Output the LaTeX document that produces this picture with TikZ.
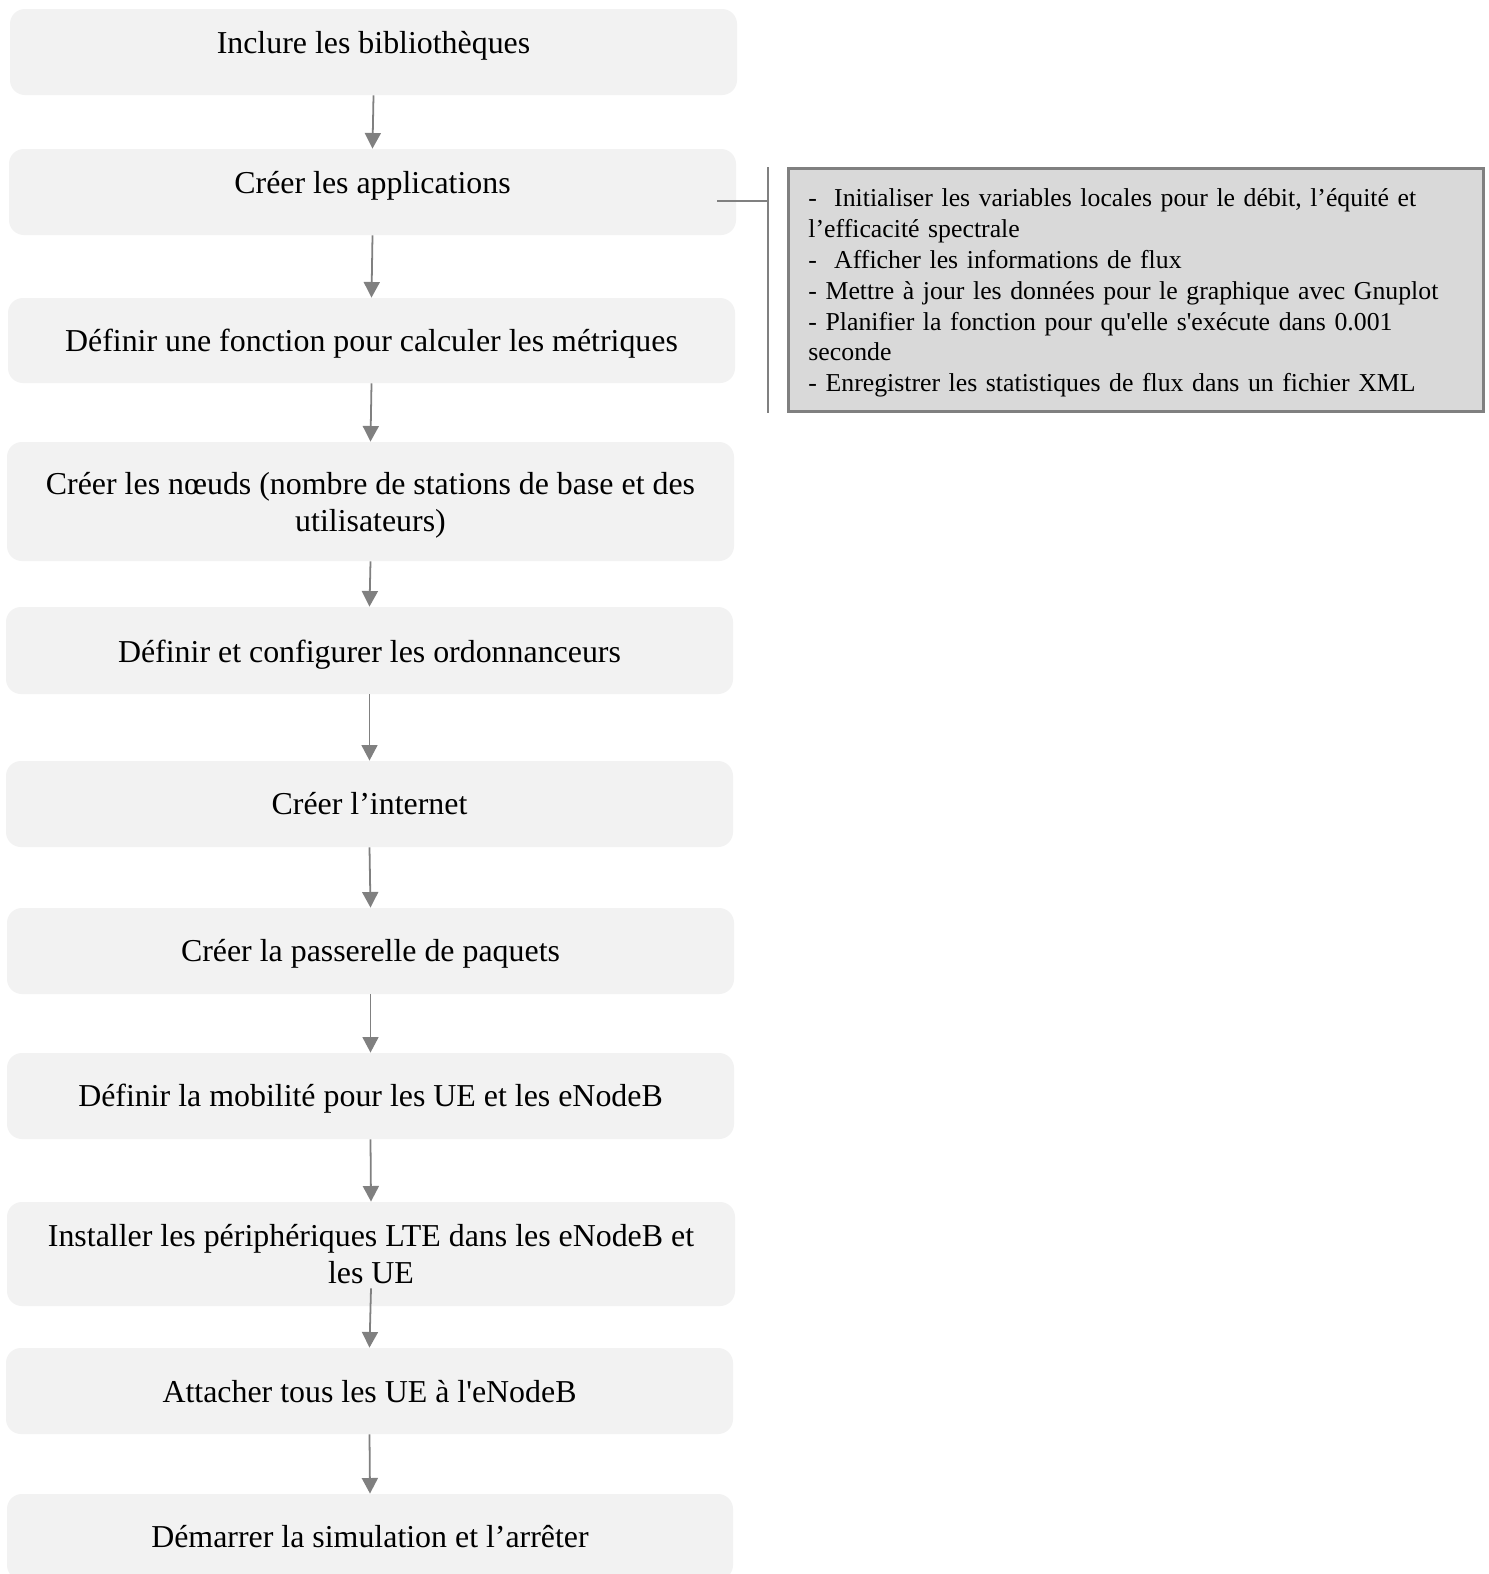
\documentclass[tikz,border=0pt]{standalone}
\usepackage{fontspec}
\setmainfont{Liberation Serif}
\usetikzlibrary{arrows.meta,calc}

\definecolor{boxfill}{HTML}{F2F2F2}
\definecolor{notefill}{HTML}{D9D9D9}
\definecolor{linegray}{HTML}{808080}
\newcommand{\straightapos}{\textquotesingle}
\def\pxu{0.45pt}

\begin{document}
\begin{tikzpicture}[x=0.45pt,y=-0.45pt,
  stepbox/.style={fill=boxfill, draw=none, rounded corners=6.75pt, inner sep=0pt},
  steptext/.style={font=\fontsize{14.35pt}{16.65pt}\selectfont, inner sep=0pt, align=center, anchor=base},
  flow/.style={linegray, line width=0.8pt, -{Triangle[length=7pt,width=7.2pt]}},
  notebox/.style={fill=notefill, draw=linegray, line width=1.3pt, align=left,
    font=\fontsize{11.6pt}{13.86pt}\selectfont, inner xsep=9pt, text height=11pt, anchor=north west},
  bracket/.style={linegray, line width=1.3pt}
]
\path[use as bounding box, fill=white] (0,0) rectangle (1489,1574);

% step boxes
\node[stepbox, minimum width=727*\pxu, minimum height=86*\pxu]  (b1)  at (373.5,52)   {};
\node[stepbox, minimum width=727*\pxu, minimum height=86*\pxu]  (b2)  at (372.5,192)  {};
\node[stepbox, minimum width=727*\pxu, minimum height=85*\pxu]  (b3)  at (371.5,340.5) {};
\node[stepbox, minimum width=727*\pxu, minimum height=119*\pxu] (b4)  at (370.5,501.5) {};
\node[stepbox, minimum width=727*\pxu, minimum height=87*\pxu]  (b5)  at (369.5,650.5) {};
\node[stepbox, minimum width=727*\pxu, minimum height=86*\pxu]  (b6)  at (369.5,804)  {};
\node[stepbox, minimum width=727*\pxu, minimum height=86*\pxu]  (b7)  at (370.5,951)  {};
\node[stepbox, minimum width=727*\pxu, minimum height=86*\pxu]  (b8)  at (370.5,1096) {};
\node[stepbox, minimum width=728*\pxu, minimum height=104*\pxu] (b9)  at (371,1254)   {};
\node[stepbox, minimum width=727*\pxu, minimum height=86*\pxu]  (b10) at (369.5,1391) {};
\node[stepbox, minimum width=726*\pxu, minimum height=86*\pxu]  (b11) at (370,1537)   {};

% step labels (base = baseline of the last line)
\node[steptext] (t1)  at (373.5,53.7)  {Inclure les bibliothèques};
\node[steptext] (t2)  at (372.5,193.2) {Créer les applications};
\node[steptext] (t3)  at (371.5,351.9) {Définir une fonction pour calculer les métriques};
\node[steptext] (t4)  at (370.5,531.4) {Créer les nœuds (nombre de stations de base et des\\utilisateurs)};
\node[steptext] (t5)  at (369.5,662.1) {Définir et configurer les ordonnanceurs};
\node[steptext] (t6)  at (369.5,814.7) {Créer l’internet};
\node[steptext] (t7)  at (370.5,961.3) {Créer la passerelle de paquets};
\node[steptext] (t8)  at (370.5,1106.9) {Définir la mobilité pour les UE et les eNodeB};
\node[steptext] (t9)  at (371,1283.4)  {Installer les périphériques LTE dans les eNodeB et\\les UE};
\node[steptext] (t10) at (369.5,1402)  {Attacher tous les UE à l\straightapos eNodeB};
\node[steptext] (t11) at (370,1547.6)  {Démarrer la simulation et l’arrêter};

% flow arrows
\draw[flow] (b1.south) -- (b2.north);
\draw[flow] (b2.south) -- (b3.north);
\draw[flow] (b3.south) -- (b4.north);
\draw[flow] (b4.south) -- (b5.north);
\draw[flow] (b5.south) -- (b6.north);
\draw[flow] (b6.south) -- (b7.north);
\draw[flow] (b7.south) -- (b8.north);
\draw[flow] (b8.south) -- (b9.north);
\draw[flow] ($(b9.south)+(0,-18)$) -- (b10.north);
\draw[flow] (b10.south) -- (b11.north);

% side note for the metrics function
\node[notebox, minimum width=695*\pxu, minimum height=243*\pxu, text width=655*\pxu] (note) at (787,167)
{-~~Initialiser les variables locales pour le débit, l’équité et\\
l’efficacité spectrale\\
-~~Afficher les informations de flux\\
- Mettre à jour les données pour le graphique avec Gnuplot\\
- Planifier la fonction pour qu\straightapos elle s\straightapos exécute dans 0.001\\
seconde\\
- Enregistrer les statistiques de flux dans un fichier XML};

\coordinate (brtop) at ($(note.north west)+(-19,0)$);
\coordinate (brbot) at ($(note.south west)+(-19,0)$);
\coordinate (tap) at ($(b2.east)+(-19,9)$);
\draw[bracket] (brtop) -- (brbot);
\draw[bracket] (tap) -- (tap -| brtop);
\end{tikzpicture}
\end{document}
